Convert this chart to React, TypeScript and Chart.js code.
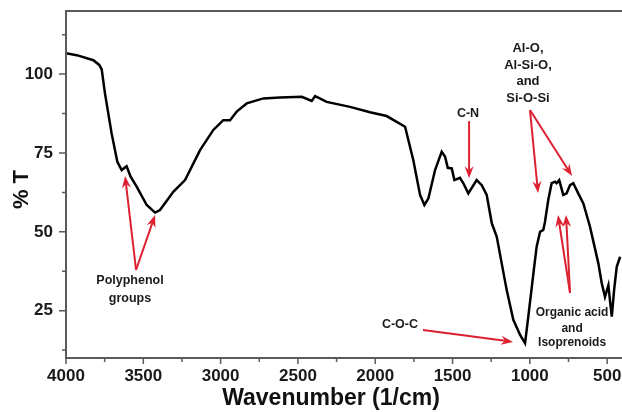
import React, { useEffect, useRef } from "react";
import { Chart, registerables } from "chart.js";

Chart.register(...registerables);

// Spectrum data (wavenumber in 1/cm, transmittance in %)
const wavenumbers = [
  4000, 3931, 3823, 3785, 3769, 3748, 3705, 3668, 3640, 3608, 3582, 3543, 3478, 3424, 3392,
  3306, 3230, 3133, 3047, 2983, 2939, 2896, 2831, 2724, 2616, 2475, 2411, 2389, 2314, 2163,
  2034, 1926, 1807, 1754, 1710, 1682, 1656, 1613, 1570, 1548, 1531, 1505, 1488, 1452, 1430,
  1398, 1344, 1311, 1279, 1246, 1214, 1182, 1150, 1107, 1063, 1031, 1010, 977, 956, 934,
  913, 902, 881, 859, 837, 827, 810, 784, 762, 740, 719, 687, 654, 611, 589,
  557, 535, 514, 492, 481, 470, 455, 438, 416,
];
const transmittance = [
  106.6, 106.0, 104.4, 102.9, 101.5, 93.9, 81.2, 72.2, 69.6, 70.8, 67.5, 64.3, 58.5, 56.1, 56.9,
  62.7, 66.4, 75.9, 82.3, 85.4, 85.4, 88.1, 90.7, 92.3, 92.6, 92.8, 91.5, 93.0, 91.2, 89.6,
  87.9, 86.7, 83.3, 72.8, 61.7, 58.5, 60.6, 69.6, 75.4, 73.8, 70.3, 70.1, 66.4, 67.1, 65.4,
  62.2, 66.4, 64.8, 61.7, 52.7, 48.4, 40.0, 31.6, 22.1, 17.3, 14.7, 23.1, 36.8, 45.3, 50.0,
  50.6, 53.2, 60.1, 65.4, 65.9, 65.4, 66.4, 61.7, 62.2, 64.8, 65.4, 62.2, 59.0, 51.6, 46.9,
  40.0, 33.7, 29.4, 33.1, 27.9, 23.1, 31.6, 38.9, 42.1,
];

const xMajorTicks = [4000, 3500, 3000, 2500, 2000, 1500, 1000, 500];
const xMinorTicks = [3750, 3250, 2750, 2250, 1750, 1250, 750];
const yMajorTicks = [25, 50, 75, 100];
const yMinorTicks = [12.5, 37.5, 62.5, 87.5, 112.5];

const xTitle = "Wavenumber (1/cm)";
const yTitle = "% T";

// Annotation texts, anchored in data units (wavenumber, %T)
const labelLines = [
  { text: "Polyphenol", x: 3586, y: 34.4, size: 12.5 },
  { text: "groups", x: 3586, y: 29.0, size: 12.5 },
  { text: "C-N", x: 1400, y: 87.6, size: 12.5 },
  { text: "Al-O,", x: 1012, y: 108.2, size: 13 },
  { text: "Al-Si-O,", x: 1012, y: 102.9, size: 13 },
  { text: "and", x: 1012, y: 97.8, size: 13 },
  { text: "Si-O-Si", x: 1012, y: 92.4, size: 13 },
  { text: "Organic acid", x: 727, y: 24.3, size: 12 },
  { text: "and", x: 727, y: 19.2, size: 12 },
  { text: "Isoprenoids", x: 727, y: 14.8, size: 12 },
  { text: "C-O-C", x: 1840, y: 20.5, size: 12.5 },
];

// Arrows: [fromX, fromY, toX, toY] in data units
const arrowFromX = [3547, 3547, 1393, 999, 999, 740, 740, 1691];
const arrowFromY = [37.9, 37.9, 85.1, 88.6, 88.6, 30.6, 30.6, 18.9];
const arrowToX = [3618, 3424, 1393, 947, 727, 818, 766, 1109];
const arrowToY = [67.7, 55.3, 67.0, 62.3, 67.7, 55.3, 55.3, 15.1];

const FONT = "'Liberation Sans', Arial, sans-serif";
const AXIS_COLOR = "#5a5a5a";
const ARROW_COLOR = "#dc2230";

const decorPlugin = {
  id: "decor",
  afterDraw(chart: any) {
    const { ctx, chartArea, scales } = chart;
    const xs = scales.x;
    const ys = scales.y;
    const { left, right, top, bottom } = chartArea;
    ctx.save();

    // Frame (top, left, bottom)
    ctx.strokeStyle = AXIS_COLOR;
    ctx.lineWidth = 2;
    ctx.beginPath();
    ctx.moveTo(right + 2, top);
    ctx.lineTo(left, top);
    ctx.lineTo(left, bottom);
    ctx.lineTo(right + 2, bottom);
    ctx.stroke();

    // Ticks
    ctx.lineWidth = 1.5;
    ctx.beginPath();
    xMajorTicks.forEach((v) => {
      const px = xs.getPixelForValue(v);
      ctx.moveTo(px, bottom);
      ctx.lineTo(px, bottom + 6);
    });
    xMinorTicks.forEach((v) => {
      const px = xs.getPixelForValue(v);
      ctx.moveTo(px, bottom);
      ctx.lineTo(px, bottom + 4);
    });
    yMajorTicks.forEach((v) => {
      const py = ys.getPixelForValue(v);
      ctx.moveTo(left, py);
      ctx.lineTo(left - 7, py);
    });
    yMinorTicks.forEach((v) => {
      const py = ys.getPixelForValue(v);
      ctx.moveTo(left, py);
      ctx.lineTo(left - 4, py);
    });
    ctx.stroke();

    // Axis titles
    ctx.fillStyle = "#111";
    ctx.textAlign = "center";
    ctx.textBaseline = "middle";
    ctx.font = `bold 23px ${FONT}`;
    ctx.fillText(xTitle, xs.getPixelForValue(2286), bottom + 41);
    ctx.save();
    ctx.translate(left - 44, (top + bottom) / 2 + 5);
    ctx.rotate(-Math.PI / 2);
    ctx.font = `bold 22px ${FONT}`;
    ctx.fillText(yTitle, 0, 0);
    ctx.restore();

    // Annotation arrows
    ctx.strokeStyle = ARROW_COLOR;
    ctx.fillStyle = ARROW_COLOR;
    ctx.lineWidth = 2;
    for (let i = 0; i < arrowFromX.length; i++) {
      const x0 = xs.getPixelForValue(arrowFromX[i]);
      const y0 = ys.getPixelForValue(arrowFromY[i]);
      const x1 = xs.getPixelForValue(arrowToX[i]);
      const y1 = ys.getPixelForValue(arrowToY[i]);
      const ang = Math.atan2(y1 - y0, x1 - x0);
      const len = 12;
      const half = 4.5;
      const notch = 8;
      const bx = x1 - Math.cos(ang) * notch;
      const by = y1 - Math.sin(ang) * notch;
      ctx.beginPath();
      ctx.moveTo(x0, y0);
      ctx.lineTo(bx, by);
      ctx.stroke();
      const cx = x1 - Math.cos(ang) * len;
      const cy = y1 - Math.sin(ang) * len;
      const nx = -Math.sin(ang);
      const ny = Math.cos(ang);
      ctx.beginPath();
      ctx.moveTo(x1, y1);
      ctx.lineTo(cx + nx * half, cy + ny * half);
      ctx.lineTo(bx, by);
      ctx.lineTo(cx - nx * half, cy - ny * half);
      ctx.closePath();
      ctx.fill();
    }

    // Annotation texts
    ctx.fillStyle = "#1a1a1a";
    labelLines.forEach((l) => {
      ctx.font = `bold ${l.size}px ${FONT}`;
      ctx.fillText(l.text, xs.getPixelForValue(l.x), ys.getPixelForValue(l.y));
    });

    ctx.restore();
  },
};

export default function App() {
  const canvasRef = useRef<HTMLCanvasElement | null>(null);

  useEffect(() => {
    const canvas = canvasRef.current;
    if (!canvas) return;
    const points = wavenumbers.map((w, i) => ({ x: w, y: transmittance[i] }));
    const chart = new Chart(canvas, {
      type: "line",
      data: {
        datasets: [
          {
            data: points,
            borderColor: "#000",
            borderWidth: 2.5,
            pointRadius: 0,
            tension: 0,
            fill: false,
          },
        ],
      },
      options: {
        responsive: false,
        animation: false,
        devicePixelRatio: 1,
        layout: { padding: { top: 11, right: 0, left: 0, bottom: 0 } },
        plugins: {
          legend: { display: false },
          tooltip: { enabled: false },
        },
        scales: {
          x: {
            type: "linear",
            reverse: true,
            min: 404,
            max: 4000,
            grid: { display: false, drawTicks: false },
            border: { display: false },
            afterBuildTicks: (s: any) => {
              s.ticks = xMajorTicks.map((v) => ({ value: v }));
            },
            afterFit: (s: any) => {
              s.height = 54;
              s.paddingLeft = 0;
              s.paddingRight = 0;
              s.paddingTop = 0;
              s.paddingBottom = 0;
            },
            ticks: {
              autoSkip: false,
              maxRotation: 0,
              padding: 8,
              color: "#1a1a1a",
              font: { family: FONT, size: 17, weight: "bold" },
              callback: (v: any) => String(v),
            },
          },
          y: {
            type: "linear",
            min: 10,
            max: 120,
            grid: { display: false, drawTicks: false },
            border: { display: false },
            afterBuildTicks: (s: any) => {
              s.ticks = yMajorTicks.map((v) => ({ value: v }));
            },
            afterFit: (s: any) => {
              s.width = 66;
              s.paddingLeft = 0;
              s.paddingRight = 0;
              s.paddingTop = 0;
              s.paddingBottom = 0;
            },
            ticks: {
              padding: 13,
              color: "#1a1a1a",
              font: { family: FONT, size: 17, weight: "bold" },
              callback: (v: any) => String(v),
            },
          },
        },
      },
      plugins: [decorPlugin],
    });
    return () => chart.destroy();
  }, []);

  return (
    <div style={{ position: "absolute", left: 0, top: 0, width: 622, height: 412, overflow: "hidden", background: "#fff" }}>
      <canvas ref={canvasRef} width={622} height={412} style={{ display: "block" }} />
    </div>
  );
}
